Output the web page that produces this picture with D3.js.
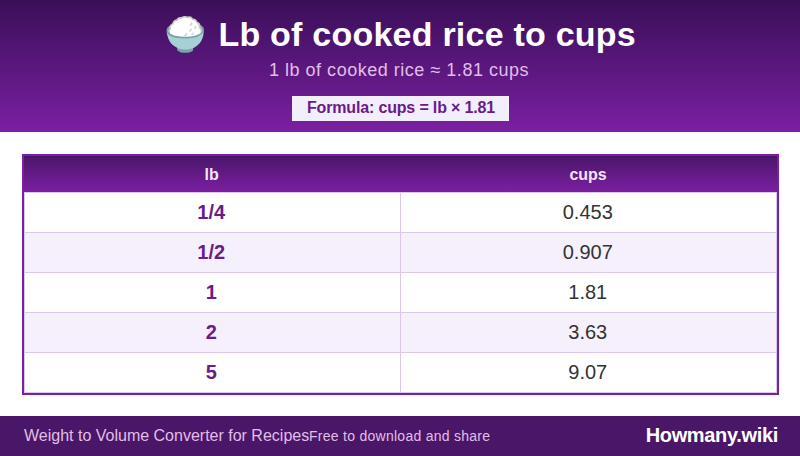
<!DOCTYPE html>
<html>
<head>
<meta charset="utf-8">
<script src="https://cdn.jsdelivr.net/npm/d3@7"></script>
<style>
html, body { margin: 0; padding: 0; background: #fff; }
svg { display: block; }
text { font-family: "Liberation Sans", Arial, sans-serif; }
</style>
</head>
<body>
<div id="chart"></div>
<script>
const columns = ["lb", "cups"];
const lbValues = ["1/4", "1/2", "1", "2", "5"];
const cupValues = ["0.453", "0.907", "1.81", "3.63", "9.07"];

const width = 800, height = 456;
const lineColor = "#dcc8ea";

const svg = d3.select("#chart").append("svg")
    .attr("width", width)
    .attr("height", height);

const defs = svg.append("defs");
const grad = defs.append("linearGradient")
    .attr("id", "purple")
    .attr("x1", 0).attr("y1", 0).attr("x2", 0).attr("y2", 1);
grad.append("stop").attr("offset", 0).attr("stop-color", "#4a1668");
grad.append("stop").attr("offset", 1).attr("stop-color", "#7b1fa2");

const headGrad = defs.append("linearGradient")
    .attr("id", "headerBg")
    .attr("x1", 0).attr("y1", 0).attr("x2", 0).attr("y2", 1);
headGrad.append("stop").attr("offset", 0).attr("stop-color", "#3a0f58");
headGrad.append("stop").attr("offset", 1).attr("stop-color", "#7b1fa2");

// header
svg.append("rect")
    .attr("width", width).attr("height", 132)
    .attr("fill", "url(#headerBg)");

const title = svg.append("text")
    .attr("x", width/2).attr("y", 46)
    .attr("text-anchor", "middle")
    .attr("font-size", 34).attr("font-weight", "bold")
    .attr("fill", "#fff");
title.append("tspan").attr("letter-spacing", 1.5).text("🍚 ");
title.append("tspan").attr("letter-spacing", 0.23).text("Lb of cooked rice to cups");

svg.append("text")
    .attr("x", width/2 - 1).attr("y", 76)
    .attr("text-anchor", "middle")
    .attr("font-size", 18)
    .attr("letter-spacing", 0.52)
    .attr("fill", "#e1bee7")
    .text("1 lb of cooked rice ≈ 1.81 cups");

svg.append("rect")
    .attr("x", 292).attr("y", 96).attr("width", 217).attr("height", 25)
    .attr("fill", "#f3eefb");

svg.append("text")
    .attr("x", 401).attr("y", 113)
    .attr("text-anchor", "middle")
    .attr("font-size", 16).attr("font-weight", "bold")
    .attr("letter-spacing", -0.16)
    .attr("fill", "#6a1b8a")
    .text("Formula: cups = lb × 1.81");

// table
const x = d3.scaleBand().domain(columns).range([24, 777]);
const y = d3.scaleBand().domain(lbValues).range([193, 393]);

svg.append("rect")
    .attr("x", 24).attr("y", 156).attr("width", 753).attr("height", 36)
    .attr("fill", "url(#purple)");

svg.selectAll(".col-head")
    .data(columns)
    .join("text")
    .attr("class", "col-head")
    .attr("x", d => x(d) + x.bandwidth()/2 - 0.7)
    .attr("y", 179.5)
    .attr("text-anchor", "middle")
    .attr("font-size", 16).attr("font-weight", "bold")
    .attr("fill", "#f3e5f5")
    .text(d => d);

const rows = svg.selectAll(".row")
    .data(lbValues)
    .join("g")
    .attr("class", "row")
    .attr("transform", d => `translate(0,${y(d)})`);

rows.append("rect")
    .attr("x", 24).attr("width", 753)
    .attr("height", y.bandwidth())
    .attr("fill", (d, i) => i % 2 ? "#f5f0fb" : "#fff");

rows.append("line")
    .attr("x1", 24).attr("x2", 777)
    .attr("y1", y.bandwidth() - 0.5).attr("y2", y.bandwidth() - 0.5)
    .attr("stroke", lineColor);

// cell side borders: left edge, middle, right edge
rows.selectAll(".side")
    .data([24.5, 400.5, 776.5])
    .join("line")
    .attr("class", "side")
    .attr("x1", d => d).attr("x2", d => d)
    .attr("y1", 0).attr("y2", y.bandwidth())
    .attr("stroke", lineColor);

svg.append("line")
    .attr("x1", 24).attr("x2", 777)
    .attr("y1", 192.5).attr("y2", 192.5)
    .attr("stroke", lineColor);

rows.append("text")
    .attr("x", x("lb") + x.bandwidth()/2 - 1)
    .attr("y", 26)
    .attr("text-anchor", "middle")
    .attr("font-size", 20).attr("font-weight", "bold")
    .attr("fill", "#6a1b8a")
    .text(d => d);

rows.append("text")
    .attr("x", x("cups") + x.bandwidth()/2 - 1)
    .attr("y", 26)
    .attr("text-anchor", "middle")
    .attr("font-size", 20)
    .attr("fill", "#333")
    .text((d, i) => cupValues[i]);

svg.append("rect")
    .attr("x", 23).attr("y", 155).attr("width", 755).attr("height", 239)
    .attr("fill", "none")
    .attr("stroke", "#7b1fa2").attr("stroke-width", 2);

// footer
svg.append("rect")
    .attr("y", 416).attr("width", width).attr("height", 40)
    .attr("fill", "#4a1668");

svg.append("text")
    .attr("x", 24).attr("y", 441)
    .attr("font-size", 16)
    .attr("fill", "#e1bee7")
    .text("Weight to Volume Converter for Recipes");

svg.append("text")
    .attr("x", 309).attr("y", 441)
    .attr("font-size", 14)
    .attr("letter-spacing", 0.27)
    .attr("fill", "#e1bee7")
    .text("Free to download and share");

svg.append("text")
    .attr("x", 778).attr("y", 442)
    .attr("text-anchor", "end")
    .attr("font-size", 20).attr("font-weight", "bold")
    .attr("letter-spacing", -0.33)
    .attr("fill", "#fff")
    .text("Howmany.wiki");
</script>
</body>
</html>
